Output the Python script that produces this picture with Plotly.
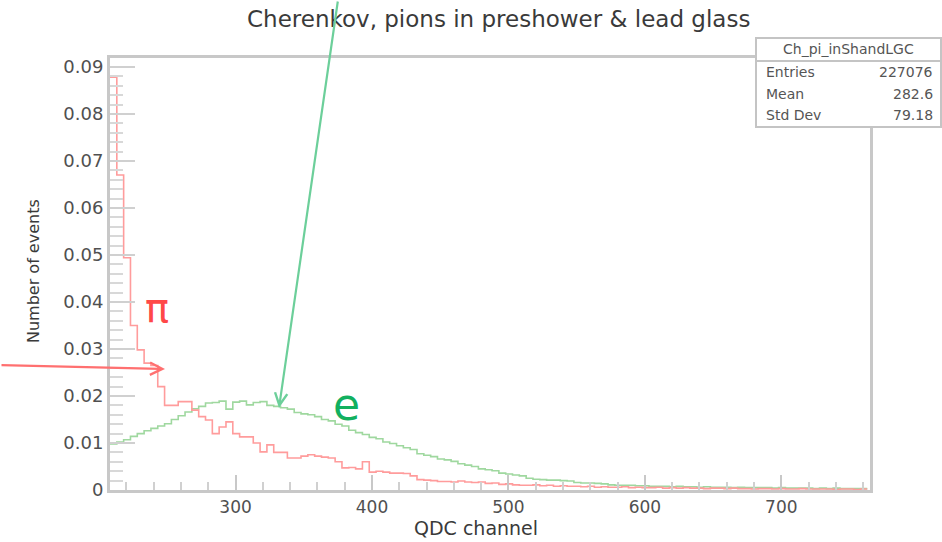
import numpy as np
import plotly.graph_objects as go

# Histogram binning (QDC channels)
bin_start = 208
bin_width = 5

# Normalised pion spectrum, one value per bin
pion = [
    0.0878, 0.0670, 0.0494, 0.0350, 0.0298, 0.0270, 0.0265, 0.0220, 0.0180, 0.0180,
    0.0188, 0.0188, 0.0170, 0.0156, 0.0149, 0.0120, 0.0134, 0.0145, 0.0120, 0.0113,
    0.0113, 0.0100, 0.0081, 0.0096, 0.0080, 0.0080, 0.0068, 0.0068, 0.0072, 0.0075,
    0.0072, 0.0070, 0.0068, 0.0060, 0.0047, 0.0048, 0.0045, 0.0060, 0.0038, 0.0040,
    0.0038, 0.0036, 0.0036, 0.0035, 0.0030, 0.0022, 0.0021, 0.0020, 0.0018, 0.0018,
    0.0017, 0.0019, 0.0017, 0.0016, 0.0017, 0.0014, 0.0015, 0.0012, 0.0013, 0.0011,
    0.0010, 0.0010, 0.0011, 0.0009, 0.0010, 0.0008, 0.0009, 0.0008, 0.0008, 0.0007,
    0.0008, 0.0006, 0.0007, 0.0006, 0.0006, 0.0007, 0.0005, 0.0006, 0.0005, 0.0005,
    0.0006, 0.0004, 0.0005, 0.0004, 0.0005, 0.0004, 0.0004, 0.0003, 0.0004, 0.0004,
    0.0003, 0.0004, 0.0003, 0.0003, 0.0002, 0.0003, 0.0003, 0.0002, 0.0003, 0.0002,
    0.0002, 0.0003, 0.0002, 0.0002, 0.0002, 0.0002, 0.0001, 0.0002, 0.0002, 0.0001,
    0.0002,
]

# Normalised electron spectrum, one value per bin
electron = [
    0.0098, 0.0102, 0.0107, 0.0114, 0.0120, 0.0126, 0.0131, 0.0136, 0.0141, 0.0150,
    0.0158, 0.0166, 0.0173, 0.0178, 0.0185, 0.0186, 0.0189, 0.0172, 0.0187, 0.0189,
    0.0181, 0.0186, 0.0188, 0.0180, 0.0178, 0.0175, 0.0172, 0.0165, 0.0162, 0.0160,
    0.0156, 0.0150, 0.0147, 0.0140, 0.0136, 0.0127, 0.0122, 0.0118, 0.0112, 0.0109,
    0.0102, 0.0099, 0.0094, 0.0090, 0.0086, 0.0077, 0.0074, 0.0071, 0.0066, 0.0064,
    0.0061, 0.0056, 0.0053, 0.0050, 0.0045, 0.0043, 0.0041, 0.0036, 0.0034, 0.0032,
    0.0030, 0.0025, 0.0023, 0.0022, 0.0021, 0.0021, 0.0020, 0.0019, 0.0016, 0.0015,
    0.0015, 0.0014, 0.0013, 0.0011, 0.0010, 0.0010, 0.0010, 0.0009, 0.0009, 0.0008,
    0.0008, 0.0008, 0.0007, 0.0008, 0.0007, 0.0007, 0.0006, 0.0007, 0.0006, 0.0006,
    0.0006, 0.0005, 0.0006, 0.0005, 0.0005, 0.0005, 0.0005, 0.0004, 0.0005, 0.0004,
    0.0004, 0.0004, 0.0004, 0.0003, 0.0004, 0.0003, 0.0004, 0.0003, 0.0003, 0.0003,
    0.0003,
]

x_ticks = [300, 400, 500, 600, 700]
y_ticks = [0, 0.01, 0.02, 0.03, 0.04, 0.05, 0.06, 0.07, 0.08, 0.09]
y_tick_labels = ["0", "0.01", "0.02", "0.03", "0.04", "0.05", "0.06", "0.07", "0.08", "0.09"]

stats_name = "Ch_pi_inShandLGC"
stats_rows = [("Entries", "227076"), ("Mean", "282.6"), ("Std Dev", "79.18")]

FONT = "DejaVu Sans"

# Plot frame in page pixels
L, R, T, B = 110, 870, 58, 490
W, H = 942, 542


def px(X):
    return (X - L) / (R - L)


def py(Y):
    return (B - Y) / (B - T)


def step_xy(values):
    edges = bin_start + bin_width * np.arange(len(values) + 1)
    y = list(values) + [values[-1]]
    return edges, y


fig = go.Figure()

ex, ey = step_xy(electron)
fig.add_trace(go.Scatter(x=ex, y=ey, mode="lines", line_shape="hv",
                         line=dict(color="#9fd89f", width=1.6), hoverinfo="skip"))
pxs, pys = step_xy(pion)
fig.add_trace(go.Scatter(x=pxs, y=pys, mode="lines", line_shape="hv",
                         line=dict(color="#ff9c9c", width=1.6), hoverinfo="skip"))

annotations = []
shapes = []

# Title
annotations.append(dict(text="Cherenkov, pions in preshower & lead glass",
                        x=px(498), y=py(19), xref="paper", yref="paper",
                        xanchor="center", yanchor="middle", showarrow=False,
                        font=dict(family=FONT, size=23, color="#3a3a3a")))

# Axis titles
annotations.append(dict(text="QDC channel", x=px(476), y=py(528), xref="paper", yref="paper",
                        xanchor="center", yanchor="middle", showarrow=False,
                        font=dict(family=FONT, size=19, color="#3a3a3a")))
annotations.append(dict(text="Number of events", x=px(33), y=py(271), xref="paper", yref="paper",
                        xanchor="center", yanchor="middle", showarrow=False, textangle=-90,
                        font=dict(family=FONT, size=16, color="#3a3a3a")))

# Particle labels
annotations.append(dict(text="π", x=px(157), y=py(308), xref="paper", yref="paper",
                        xanchor="center", yanchor="middle", showarrow=False,
                        font=dict(family=FONT, size=40, color="#ff4848")))
annotations.append(dict(text="e", x=px(346), y=py(404), xref="paper", yref="paper",
                        xanchor="center", yanchor="middle", showarrow=False,
                        font=dict(family=FONT, size=44, color="#12b060")))

# Arrows
annotations.append(dict(text="", x=px(165), y=py(369), xref="paper", yref="paper",
                        ax=-165, ay=-4, showarrow=True, arrowhead=5, arrowsize=1.1,
                        arrowwidth=2.2, arrowcolor="#ff7070"))
annotations.append(dict(text="", x=px(279), y=py(408), xref="paper", yref="paper",
                        ax=59, ay=-408, showarrow=True, arrowhead=5, arrowsize=1.1,
                        arrowwidth=2.2, arrowcolor="#6ccf9a"))

# Statistics box
sb_l, sb_r, sb_t, sb_b, sb_div = 756, 941, 38, 127, 61
shapes.append(dict(type="rect", xref="paper", yref="paper",
                   x0=px(sb_l), x1=px(sb_r), y0=py(sb_b), y1=py(sb_t),
                   line=dict(color="#c4c4c4", width=2), fillcolor="white"))
shapes.append(dict(type="line", xref="paper", yref="paper",
                   x0=px(sb_l), x1=px(sb_r), y0=py(sb_div), y1=py(sb_div),
                   line=dict(color="#c4c4c4", width=2)))
annotations.append(dict(text=stats_name, x=px((sb_l + sb_r) / 2), y=py(49),
                        xref="paper", yref="paper", xanchor="center", yanchor="middle",
                        showarrow=False, font=dict(family=FONT, size=14, color="#555")))
for i, (k, v) in enumerate(stats_rows):
    yy = py(72 + i * 21.5)
    annotations.append(dict(text=k, x=px(764), y=yy, xref="paper", yref="paper",
                            xanchor="left", yanchor="middle", showarrow=False,
                            font=dict(family=FONT, size=14, color="#555")))
    annotations.append(dict(text=v, x=px(935), y=yy, xref="paper", yref="paper",
                            xanchor="right", yanchor="middle", showarrow=False,
                            font=dict(family=FONT, size=14, color="#555")))

fig.update_layout(
    width=W, height=H,
    margin=dict(l=L, r=W - R, t=T, b=H - B, pad=0),
    paper_bgcolor="white", plot_bgcolor="white",
    showlegend=False,
    annotations=annotations,
    shapes=shapes,
    xaxis=dict(range=[bin_start, 765], tickvals=x_ticks, ticktext=[str(t) for t in x_ticks],
               ticks="inside", ticklen=15, tickwidth=2, tickcolor="#c8c8c8",
               minor=dict(dtick=20, tick0=200, ticks="inside", ticklen=8, tickwidth=2,
                          tickcolor="#d0d0d0"),
               showline=True, linecolor="#c8c8c8", linewidth=3, mirror=True,
               showgrid=False, zeroline=False,
               tickfont=dict(family=FONT, size=17, color="#505050")),
    yaxis=dict(range=[0, 0.0919], tickvals=y_ticks, ticktext=y_tick_labels,
               ticks="inside", ticklen=25, tickwidth=2, tickcolor="#d0d0d0",
               minor=dict(dtick=0.002, tick0=0, ticks="inside", ticklen=13, tickwidth=2,
                          tickcolor="#d8d8d8"),
               showline=True, linecolor="#c8c8c8", linewidth=3, mirror=True,
               showgrid=False, zeroline=False,
               tickfont=dict(family=FONT, size=18, color="#505050")),
)

fig.write_html("out.html")
